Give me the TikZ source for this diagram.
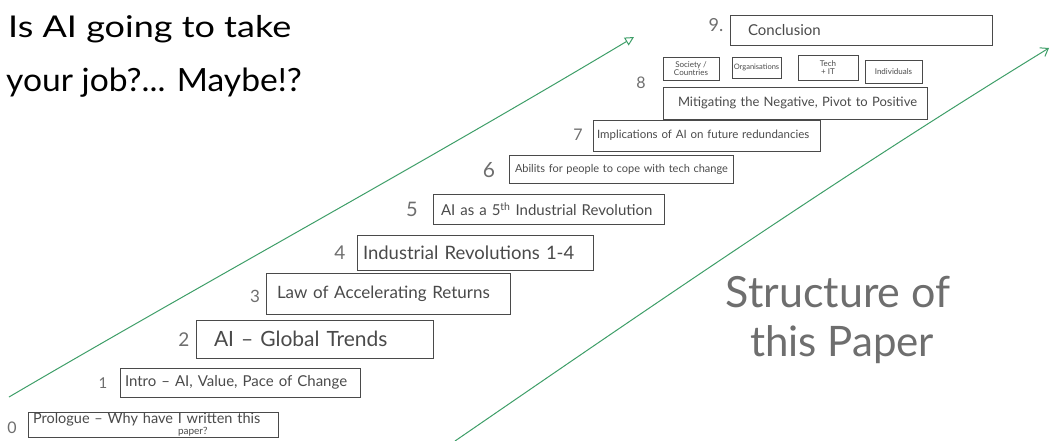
\documentclass[tikz,border=0pt]{standalone}
\usepackage{fontspec}
\setmainfont{Lato}
\usetikzlibrary{arrows.meta}
\definecolor{pen}{HTML}{4A4A4A}
\definecolor{penlight}{HTML}{6E6E6E}
\definecolor{marker}{HTML}{3E9E68}
\tikzset{
  stepbox/.style={draw=pen, line width=0.8pt, inner xsep=6pt, inner ysep=0pt,
    align=left, text=pen, anchor=center},
  subbox/.style={draw=pen, line width=0.7pt, inner sep=1pt, align=center,
    text=pen, font=\fontsize{8}{8.5}\selectfont},
  num/.style={text=penlight, inner sep=0pt},
  trend/.style={draw=marker, line width=1pt},
}
\newcommand{\bsz}[1]{\fontsize{#1}{#1}\selectfont}
\begin{document}
\begin{tikzpicture}[x=1pt,y=-1pt]
\useasboundingbox (0,0) rectangle (1051,441);

% title
\node[anchor=base west, inner sep=0pt, font=\bsz{30}, xscale=1.2] (title)
  at (8,38) {Is AI going to take};
\node[anchor=base west, inner sep=0pt, font=\bsz{32}, xscale=1.05] (title2)
  at (6,92) {your job?... Maybe!?};

% rising trend lines
\coordinate (a0) at (9,397);
\coordinate (a1) at (634,37);
\draw[trend, -{Triangle[open,length=9pt,width=9pt]}] (a0) .. controls (200,285) and (420,165) .. (a1);
\coordinate (b0) at (455,441);
\coordinate (b1) at (1049,48);
\draw[trend, -{Straight Barb[length=7pt,width=10pt]}] (b0) .. controls (660,300) and (850,170) .. (b1);

% numbered steps
\node[stepbox, minimum height=25pt, text width=240pt, font=\bsz{14.5}, inner xsep=5pt] (s0) at (153,424.5)
  {\mbox{Prologue -- Why have I written this}\\[-3pt]{\bsz{10}\hspace*{145pt}paper?}};
\node[num, font=\bsz{16}] (n0) at (12,428) {0};

\node[stepbox, minimum height=29pt, text width=230pt, font=\bsz{15}, inner xsep=5pt] (s1) at (240,382.5)
  {\mbox{Intro -- AI, Value, Pace of Change}};
\node[num, font=\bsz{15}] (n1) at (103,383) {1};

\node[stepbox, minimum height=38pt, text width=225pt, font=\bsz{21}] (s2) at (314.5,339)
  {\hspace*{12pt}AI -- Global Trends};
\node[num, font=\bsz{19}] (n2) at (184,340) {2};

\node[stepbox, minimum height=41pt, text width=234pt, font=\bsz{17}, inner xsep=5pt] (s3) at (388,293.5)
  {\mbox{\hspace*{6pt}Law of Accelerating Returns}};
\node[num, font=\bsz{17}] (n3) at (255,296) {3};

\node[stepbox, minimum height=35pt, text width=224pt, font=\bsz{18.5}] (s4) at (475,252.5)
  {\mbox{Industrial Revolutions 1-4}};
\node[num, font=\bsz{19}] (n4) at (340,253) {4};

\node[stepbox, minimum height=30pt, text width=223pt, font=\bsz{15}, inner xsep=4pt] (s5) at (548.5,209)
  {\mbox{\hspace*{4pt}AI as a 5\textsuperscript{th} Industrial Revolution}};
\node[num, font=\bsz{20}] (n5) at (412,209) {5};

\node[stepbox, minimum height=28pt, text width=216pt, font=\bsz{11}, inner xsep=4pt] (s6) at (621,169)
  {\mbox{\hspace*{2pt}Abilits for people to cope with tech change}};
\node[num, font=\bsz{21}] (n6) at (489,170) {6};

\node[stepbox, minimum height=31pt, text width=219pt, font=\bsz{11.5}, inner xsep=4pt] (s7) at (706.5,135.5)
  {\mbox{Implications of AI on future redundancies}};
\node[num, font=\bsz{16}] (n7) at (578,135) {7};

\node[stepbox, minimum height=32pt, text width=252pt, font=\bsz{13}] (s8) at (795,103)
  {\mbox{\hspace*{9pt}Mitigating the Negative, Pivot to Positive}};
\node[num, font=\bsz{16}] (n8) at (641,83) {8};

% areas addressed by step 8
\node[subbox, minimum width=56pt, minimum height=23pt] (c1) at (691,68.5) {Society /\\Countries};
\node[subbox, minimum width=49pt, minimum height=21pt, font=\bsz{7.5}] (c2) at (756.5,67.5) {Organisations};
\node[subbox, minimum width=60pt, minimum height=25pt] (c3) at (828,67.5) {Tech\\+ IT};
\node[subbox, minimum width=57pt, minimum height=23pt] (c4) at (893.5,71.5) {Individuals};

\node[stepbox, minimum height=30pt, text width=250pt, font=\bsz{15}] (s9) at (861,30)
  {\hspace*{12pt}Conclusion};
\node[num, font=\bsz{18}] (n9) at (716,25) {9.};

% caption
\node[anchor=base, inner sep=0pt, text=penlight, font=\bsz{43}] (cap1) at (838,307) {Structure of};
\node[anchor=base, inner sep=0pt, text=penlight, font=\bsz{42}] (cap2) at (842,356) {this Paper};
\end{tikzpicture}
\end{document}
